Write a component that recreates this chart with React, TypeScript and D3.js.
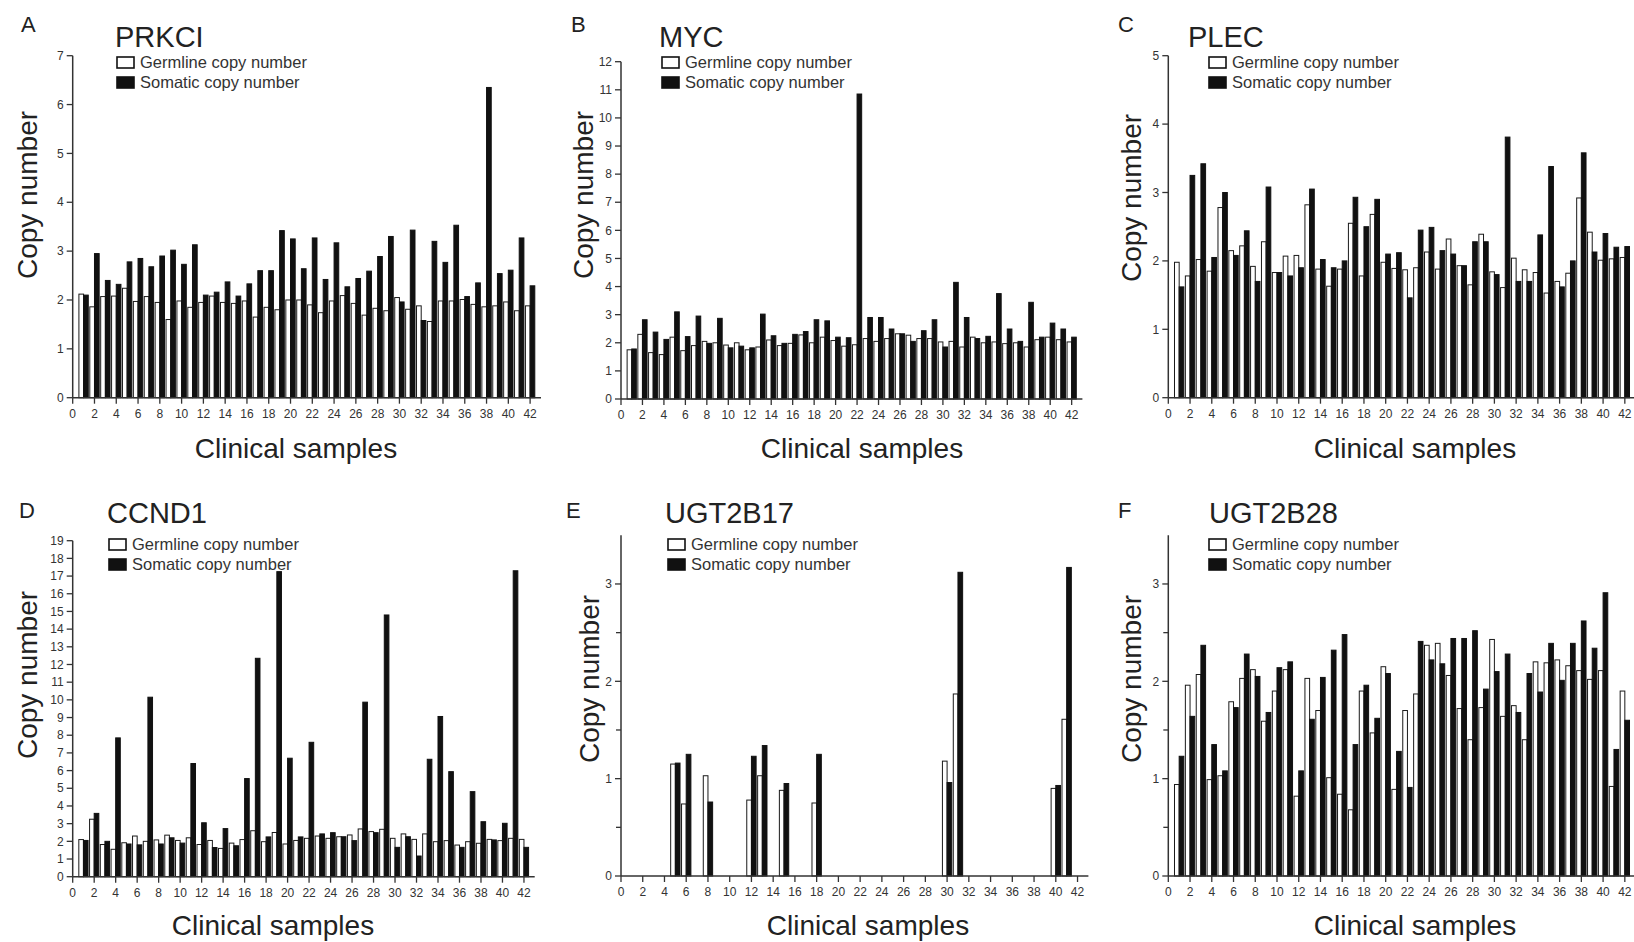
import React from 'react';
import * as d3 from 'd3';

const FONT = '"Liberation Sans", Arial, Helvetica, sans-serif';

const sampleIds = [1,2,3,4,5,6,7,8,9,10,11,12,13,14,15,16,17,18,19,20,21,22,23,24,25,26,27,28,29,30,31,32,33,34,35,36,37,38,39,40,41,42];
const xTickLabels = [0,2,4,6,8,10,12,14,16,18,20,22,24,26,28,30,32,34,36,38,40,42];
const seriesNames = ['Germline copy number', 'Somatic copy number'];

const prkciGerm = [2.12,1.86,2.07,2.08,2.24,1.97,2.07,1.95,1.6,1.98,1.85,1.95,2.08,1.95,1.93,1.98,1.65,1.85,1.8,2.0,2.0,1.9,1.74,1.98,2.09,1.93,1.69,1.83,1.78,2.05,1.81,1.88,1.56,1.98,1.98,2.01,1.91,1.86,1.88,1.96,1.78,1.88];
const prkciSom = [2.1,2.95,2.4,2.32,2.78,2.85,2.68,2.9,3.02,2.73,3.13,2.1,2.16,2.37,2.08,2.33,2.6,2.6,3.42,3.25,2.64,3.27,2.42,3.17,2.27,2.44,2.59,2.89,3.3,1.96,3.43,1.58,3.2,2.77,3.53,2.07,2.35,6.35,2.54,2.61,3.27,2.29];

const mycGerm = [1.75,2.3,1.65,1.58,2.2,1.72,1.9,2.05,2.0,1.92,2.0,1.75,1.85,2.1,1.9,1.98,2.28,2.0,2.2,2.08,1.88,1.93,2.15,2.05,2.15,2.32,2.27,2.15,2.15,2.03,2.05,1.85,2.2,2.0,2.03,1.97,2.0,1.85,2.11,2.2,2.11,2.03];
const mycSom = [1.78,2.82,2.38,2.12,3.1,2.22,2.95,1.98,2.87,1.82,1.88,1.82,3.02,2.25,1.98,2.3,2.4,2.82,2.78,2.2,2.18,10.85,2.9,2.9,2.49,2.32,2.05,2.43,2.82,1.85,4.15,2.9,2.15,2.23,3.75,2.49,2.05,3.44,2.2,2.7,2.49,2.2];

const plecGerm = [1.98,1.78,2.02,1.85,2.78,2.15,2.22,1.92,2.28,1.83,2.07,2.08,2.82,1.88,1.63,1.88,2.55,1.78,2.68,1.98,1.89,1.87,1.9,2.13,1.88,2.32,1.93,1.65,2.39,1.84,1.61,2.04,1.87,1.83,1.53,1.7,1.82,2.92,2.42,2.01,2.03,2.05];
const plecSom = [1.62,3.25,3.42,2.05,3.0,2.08,2.44,1.7,3.08,1.83,1.78,1.9,3.05,2.02,1.9,2.0,2.93,2.5,2.9,2.1,2.12,1.46,2.45,2.49,2.15,2.1,1.93,2.28,2.28,1.8,3.81,1.7,1.7,2.38,3.38,1.62,2.0,3.58,2.13,2.4,2.2,2.21];

const ccnd1Germ = [2.1,3.25,1.82,1.55,1.92,2.3,2.0,2.08,2.35,2.05,2.2,1.82,2.05,1.6,1.9,2.1,2.6,1.98,2.5,1.85,2.05,2.17,2.3,2.17,2.26,2.36,2.7,2.55,2.68,2.17,2.42,2.11,2.42,1.98,2.04,1.79,1.98,1.89,2.11,2.04,2.17,2.11];
const ccnd1Som = [2.05,3.58,2.0,7.85,1.85,1.8,10.15,1.85,2.2,1.9,6.4,3.05,1.65,2.72,1.75,5.55,12.35,2.25,17.25,6.7,2.25,7.6,2.42,2.49,2.26,2.04,9.87,2.49,14.8,1.66,2.26,1.17,6.64,9.06,5.94,1.66,4.81,3.11,2.08,3.02,17.3,1.66];

const ugt2b17Germ = [0,0,0,0,1.15,0.74,0,1.03,0,0,0,0.78,1.03,0,0.88,0,0,0.75,0,0,0,0,0,0,0,0,0,0,0,1.18,1.87,0,0,0,0,0,0,0,0,0.9,1.61,0];
const ugt2b17Som = [0,0,0,0,1.16,1.25,0,0.76,0,0,0,1.23,1.34,0,0.95,0,0,1.25,0,0,0,0,0,0,0,0,0,0,0,0.96,3.12,0,0,0,0,0,0,0,0,0.93,3.17,0];

const ugt2b28Germ = [0.94,1.96,2.07,0.99,1.03,1.79,2.03,2.12,1.59,1.9,2.12,0.82,2.03,1.7,1.01,0.84,0.68,1.9,1.47,2.15,0.89,1.7,1.87,2.37,2.39,2.06,1.72,1.4,1.73,2.43,1.64,1.75,1.4,2.2,2.19,2.22,2.16,2.11,2.02,2.11,0.92,1.9];
const ugt2b28Som = [1.23,1.64,2.37,1.35,1.08,1.73,2.28,2.05,1.68,2.14,2.2,1.08,1.61,2.04,2.32,2.48,1.35,1.96,1.62,2.08,1.28,0.91,2.41,2.22,2.18,2.44,2.44,2.52,1.92,2.1,2.28,1.68,2.08,1.89,2.39,2.01,2.39,2.62,2.34,2.91,1.3,1.6];

const ticks7 = [0,1,2,3,4,5,6,7];
const ticks12 = [0,1,2,3,4,5,6,7,8,9,10,11,12];
const ticks5 = [0,1,2,3,4,5];
const ticks19 = [0,1,2,3,4,5,6,7,8,9,10,11,12,13,14,15,16,17,18,19];
const ticks3 = [0,1,2,3];
const minorHalf = [0.5,1.5,2.5];

type Cfg = {
  letter: string; gene: string; germ: number[]; som: number[];
  yTicks: number[]; yMinor: number[]; yMax: number;
  x0: number; x1: number; yTop: number; yBottom: number;
  letterX: number; letterY: number; titleX: number; titleY: number;
  legX: number; legY: number; yLabelX: number; yLabelY: number;
  xLabelX: number; xLabelY: number;
};

const panels: Cfg[] = [
  { letter: 'A', gene: 'PRKCI', germ: prkciGerm, som: prkciSom, yTicks: ticks7, yMinor: [], yMax: 7,
    x0: 72.7, x1: 541, yTop: 55.7, yBottom: 397.7, letterX: 21, letterY: 32, titleX: 115, titleY: 47,
    legX: 117, legY: 57, yLabelX: 27, yLabelY: 195, xLabelX: 296, xLabelY: 458 },
  { letter: 'B', gene: 'MYC', germ: mycGerm, som: mycSom, yTicks: ticks12, yMinor: [], yMax: 12,
    x0: 621, x1: 1082.4, yTop: 61.7, yBottom: 399, letterX: 571, letterY: 32, titleX: 659, titleY: 47,
    legX: 662, legY: 57, yLabelX: 583, yLabelY: 195, xLabelX: 862, xLabelY: 458 },
  { letter: 'C', gene: 'PLEC', germ: plecGerm, som: plecSom, yTicks: ticks5, yMinor: [], yMax: 5,
    x0: 1168.3, x1: 1635.7, yTop: 55.7, yBottom: 397.7, letterX: 1118, letterY: 32, titleX: 1188, titleY: 47,
    legX: 1209, legY: 57, yLabelX: 1131, yLabelY: 198, xLabelX: 1415, xLabelY: 458 },
  { letter: 'D', gene: 'CCND1', germ: ccnd1Germ, som: ccnd1Som, yTicks: ticks19, yMinor: [], yMax: 19,
    x0: 72.7, x1: 534.7, yTop: 540.7, yBottom: 876.7, letterX: 19, letterY: 518, titleX: 107, titleY: 523,
    legX: 109, legY: 539, yLabelX: 27, yLabelY: 675, xLabelX: 273, xLabelY: 935 },
  { letter: 'E', gene: 'UGT2B17', germ: ugt2b17Germ, som: ugt2b17Som, yTicks: ticks3, yMinor: minorHalf, yMax: 3.5,
    x0: 621, x1: 1088.4, yTop: 535.3, yBottom: 876, letterX: 566, letterY: 518, titleX: 665, titleY: 523,
    legX: 668, legY: 539, yLabelX: 589, yLabelY: 679, xLabelX: 868, xLabelY: 935 },
  { letter: 'F', gene: 'UGT2B28', germ: ugt2b28Germ, som: ugt2b28Som, yTicks: ticks3, yMinor: minorHalf, yMax: 3.5,
    x0: 1168.3, x1: 1635.7, yTop: 535.3, yBottom: 876, letterX: 1118, letterY: 518, titleX: 1209, titleY: 523,
    legX: 1209, legY: 539, yLabelX: 1131, yLabelY: 679, xLabelX: 1415, xLabelY: 935 },
];

const AXIS = '#333';
const TEXT = '#222';

function Panel({ c }: { c: Cfg }) {
  const x = d3.scaleLinear().domain([0, 43]).range([c.x0, c.x1]);
  const y = d3.scaleLinear().domain([0, c.yMax]).range([c.yBottom, c.yTop]);
  const hw = 0.43;
  return (
    <g>
      <text x={c.letterX} y={c.letterY} fontSize={22} fill={TEXT}>{c.letter}</text>
      <text x={c.titleX} y={c.titleY} fontSize={29} fill={TEXT}>{c.gene}</text>
      {/* legend */}
      <rect x={c.legX} y={c.legY} width={17} height={11} fill="#fff" stroke="#111" strokeWidth={1.6} />
      <text x={c.legX + 23} y={c.legY + 11} fontSize={16.5} fill="#333">{seriesNames[0]}</text>
      <rect x={c.legX} y={c.legY + 20} width={17} height={11} fill="#111" stroke="#111" strokeWidth={1.6} />
      <text x={c.legX + 23} y={c.legY + 31} fontSize={16.5} fill="#333">{seriesNames[1]}</text>
      {/* bars */}
      {sampleIds.map((id, i) => {
        const g = c.germ[i];
        const s = c.som[i];
        return (
          <g key={id}>
            {g > 0 && (
              <rect x={x(id - hw)} y={y(g)} width={x(id) - x(id - hw)} height={y(0) - y(g)}
                fill="#fff" stroke="#1a1a1a" strokeWidth={1} />
            )}
            {s > 0 && (
              <rect x={x(id)} y={y(s)} width={x(id + hw) - x(id)} height={y(0) - y(s)}
                fill="#111" stroke="#111" strokeWidth={1} />
            )}
          </g>
        );
      })}
      {/* y axis */}
      <line x1={c.x0} x2={c.x0} y1={c.yBottom} y2={c.yTop} stroke={AXIS} strokeWidth={1.5} />
      {c.yTicks.map((t) => (
        <g key={'y' + t}>
          <line x1={c.x0 - 6} x2={c.x0} y1={y(t)} y2={y(t)} stroke={AXIS} strokeWidth={1.3} />
          <text x={c.x0 - 9} y={y(t)} dy="0.35em" textAnchor="end" fontSize={12} fill="#333">{t}</text>
        </g>
      ))}
      {c.yMinor.map((t) => (
        <line key={'m' + t} x1={c.x0 - 5} x2={c.x0} y1={y(t)} y2={y(t)} stroke={AXIS} strokeWidth={1.3} />
      ))}
      {/* x axis */}
      <line x1={c.x0} x2={c.x1} y1={c.yBottom} y2={c.yBottom} stroke={AXIS} strokeWidth={1.5} />
      {xTickLabels.map((t) => (
        <g key={'x' + t}>
          <line x1={x(t)} x2={x(t)} y1={c.yBottom} y2={c.yBottom + 6} stroke={AXIS} strokeWidth={1.3} />
          <text x={x(t)} y={c.yBottom + 20} textAnchor="middle" fontSize={12} fill="#333">{t}</text>
        </g>
      ))}
      <text transform={`translate(${c.yLabelX},${c.yLabelY}) rotate(-90)`} textAnchor="middle" dy="0.35em"
        fontSize={28} fill={TEXT}>Copy number</text>
      <text x={c.xLabelX} y={c.xLabelY} textAnchor="middle" fontSize={28} fill={TEXT}>Clinical samples</text>
    </g>
  );
}

export default function App() {
  return (
    <svg width={1634} height={942} viewBox="0 0 1634 942"
      style={{ position: 'absolute', left: 0, top: 0, background: '#fff', fontFamily: FONT }}>
      <rect x={0} y={0} width={1634} height={942} fill="#fff" />
      {panels.map((c) => <Panel key={c.letter} c={c} />)}
    </svg>
  );
}
